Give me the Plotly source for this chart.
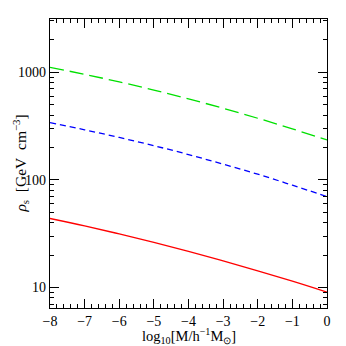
import plotly.graph_objects as go

log_mass = [-8, -7, -6, -5, -4, -3, -2, -1, 0]
rho_green = [1112, 957, 814, 683, 566, 463, 374, 298, 235]
rho_blue = [340, 292, 248, 208, 172, 140, 113, 89.3, 70]
rho_red = [43.8, 37.4, 31.5, 26.3, 21.7, 17.7, 14.3, 11.45, 9.06]

x_ticks = [-8, -7, -6, -5, -4, -3, -2, -1, 0]
x_labels = ["\u22128", "\u22127", "\u22126", "\u22125", "\u22124", "\u22123", "\u22122", "\u22121", "0"]
y_ticks = [10, 100, 1000]
y_labels = ["10", "100", "1000"]

font = "Liberation Serif, Times New Roman, serif"

fig = go.Figure()
fig.add_trace(go.Scatter(x=log_mass, y=rho_green, mode="lines", line=dict(color="#00e000", width=1.3, dash="14px,6px"), line_shape="spline"))
fig.add_trace(go.Scatter(x=log_mass, y=rho_blue, mode="lines", line=dict(color="#0000ff", width=1.3, dash="6px,4px"), line_shape="spline"))
fig.add_trace(go.Scatter(x=log_mass, y=rho_red, mode="lines", line=dict(color="#ff0000", width=1.3), line_shape="spline"))

minor_y = [m * 10 ** e for e in range(0, 4) for m in range(2, 10)]
minor_y = [v for v in minor_y if 6 < v < 3200]

fig.update_layout(
    width=346, height=346,
    margin=dict(l=50, r=19, t=19, b=38, autoexpand=False),
    paper_bgcolor="white", plot_bgcolor="white",
    showlegend=False,
    font=dict(family=font, size=14, color="black"),
    xaxis=dict(range=[-8, 0], tickvals=x_ticks, ticktext=x_labels, ticks="inside", ticklen=9,
               tickwidth=1, tickcolor="black", showline=True, linecolor="black", linewidth=1.3,
               mirror="allticks", showgrid=False, zeroline=False, automargin=False,
               tickfont=dict(size=14, color="black"),
               minor=dict(ticks="inside", ticklen=4, dtick=0.2, tickcolor="black", showgrid=False)),
    yaxis=dict(type="log", range=[0.81, 3.495], tickvals=y_ticks, ticktext=y_labels, ticks="inside",
               ticklen=9, tickwidth=1, tickcolor="black", showline=True, linecolor="black", linewidth=1.3,
               mirror="allticks", showgrid=False, zeroline=False, automargin=False,
               tickfont=dict(size=14, color="black"),
               minor=dict(ticks="inside", ticklen=4, tickvals=minor_y, tickcolor="black", showgrid=False)),
    annotations=[
        dict(text="log<sub>10</sub>[M/h<sup>\u22121</sup>M<sub>\u2299</sub>]",
             xref="paper", yref="paper", x=0.5, y=-0.097, xanchor="center", yanchor="middle",
             showarrow=False, font=dict(size=14.5, color="black")),
        dict(text="<i>\u03c1</i><sub>s</sub>\u00a0\u00a0[GeV\u00a0\u00a0cm<sup>\u22123</sup>]",
             xref="paper", yref="paper", x=-0.108, y=0.5, xanchor="center", yanchor="middle",
             textangle=-90, showarrow=False, font=dict(size=15.5, color="black")),
    ],
)

fig.write_html("out.html", config={"displayModeBar": False},
               post_script="document.body.style.margin='0';document.body.style.overflow='hidden';")
